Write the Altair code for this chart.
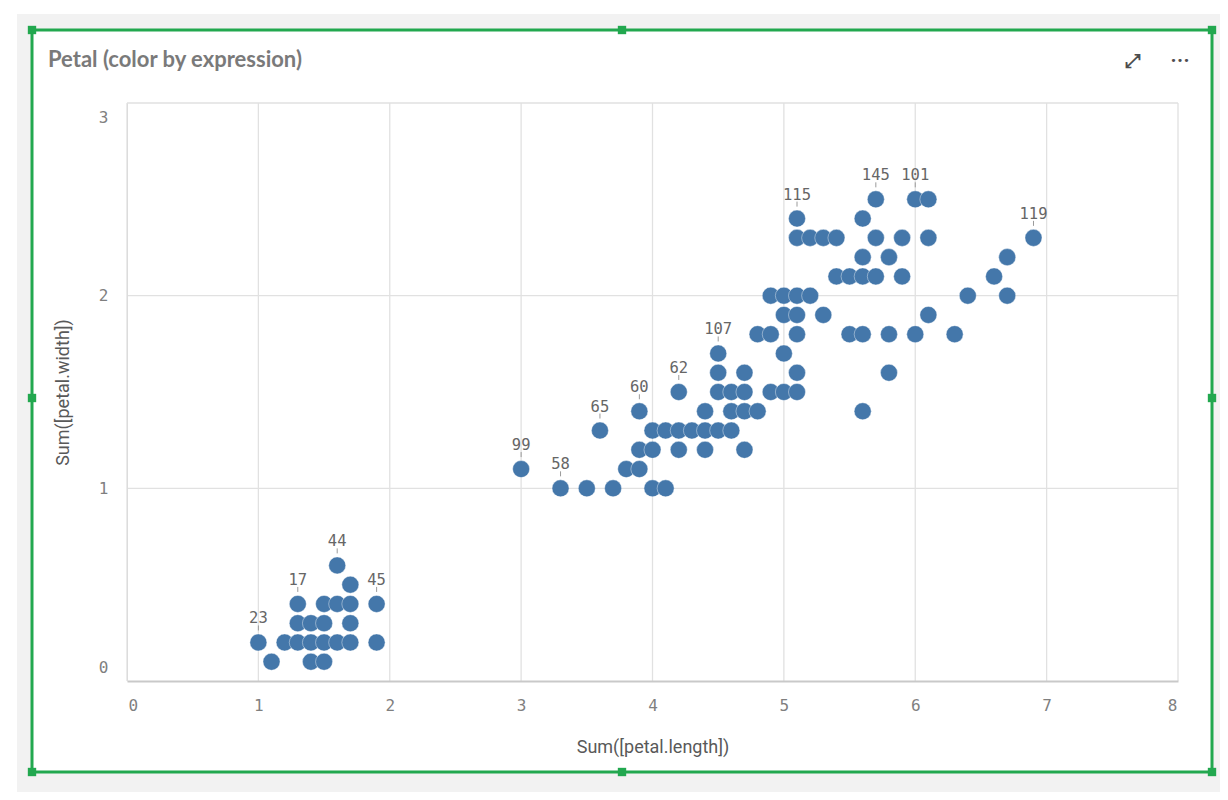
import altair as alt
import pandas as pd

# ---------------- data ----------------
petal_length = [
    1.1, 1.4, 1.5,
    1.0, 1.2, 1.3, 1.4, 1.5, 1.6, 1.7, 1.9,
    1.3, 1.4, 1.5, 1.7,
    1.3, 1.5, 1.6, 1.7, 1.9,
    1.7,
    1.6,
    3.3, 3.5, 3.7, 4.0, 4.1,
    3.0, 3.8, 3.9,
    3.9, 4.0, 4.2, 4.4, 4.7,
    3.6, 4.0, 4.1, 4.2, 4.3, 4.4, 4.5, 4.6,
    3.9, 4.4, 4.6, 4.7, 4.8, 5.6,
    4.2, 4.5, 4.6, 4.7, 4.9, 5.0, 5.1,
    4.5, 4.7, 5.1, 5.8,
    4.5, 5.0,
    4.8, 4.9, 5.1, 5.5, 5.6, 5.8, 6.0, 6.3,
    5.0, 5.1, 5.3, 6.1,
    4.9, 5.0, 5.1, 5.2, 6.4, 6.7,
    5.4, 5.5, 5.6, 5.7, 5.9, 6.6,
    5.6, 5.8, 6.7,
    5.1, 5.2, 5.3, 5.4, 5.7, 5.9, 6.1, 6.9,
    5.1, 5.6,
    5.7, 6.0, 6.1,
]
petal_width = (
    [0.1] * 3 + [0.2] * 8 + [0.3] * 4 + [0.4] * 5 + [0.5] * 1 + [0.6] * 1
    + [1.0] * 5 + [1.1] * 3 + [1.2] * 5 + [1.3] * 8 + [1.4] * 6 + [1.5] * 7
    + [1.6] * 4 + [1.7] * 2 + [1.8] * 8 + [1.9] * 4 + [2.0] * 6 + [2.1] * 6
    + [2.2] * 3 + [2.3] * 8 + [2.4] * 2 + [2.5] * 3
)

label_ids = ["23", "17", "44", "45", "99", "58", "65", "60", "62", "107",
             "115", "145", "101", "119"]
label_length = [1.0, 1.3, 1.6, 1.9, 3.0, 3.3, 3.6, 3.9, 4.2, 4.5, 5.1, 5.7, 6.0, 6.9]
label_width = [0.2, 0.4, 0.6, 0.4, 1.1, 1.0, 1.3, 1.4, 1.5, 1.7, 2.4, 2.5, 2.5, 2.3]

x_ticks = [0, 1, 2, 3, 4, 5, 6, 7, 8]
y_ticks = [0, 1, 2, 3]

title_text = "Petal (color by expression)"
x_title = "Sum([petal.length])"
y_title = "Sum([petal.width])"

# ---------------- layout ----------------
W, H = 1051, 578
PAD = {"left": 119, "top": 95, "right": 42, "bottom": 111}
GREEN = "#22a84f"
BLUE = "#4477aa"

points = pd.DataFrame({"length": petal_length, "width": petal_width})
labels = pd.DataFrame({"length": label_length, "width": label_width, "id": label_ids})
xgrid = pd.DataFrame({"length": x_ticks})
ygrid = pd.DataFrame({"width": y_ticks})

xs = alt.Scale(domain=[0, 8], nice=False, zero=True)
ys = alt.Scale(domain=[0, 3], nice=False, zero=True)

x_axis = alt.Axis(
    values=x_ticks, grid=False, ticks=False, zindex=1,
    domain=True, domainColor="#c9c9c9", domainWidth=2,
    labelFont="DejaVu Sans Mono", labelFontSize=16, labelColor="#7f7f7f",
    labelPadding=16, labelFlush=True, labelFlushOffset=-1,
    titleFont="Roboto", titleFontSize=18, titleFontWeight="normal", titleColor="#595959",
    titleX=W / 2, titleY=66, titleBaseline="middle", titleAlign="center",
)
y_axis = alt.Axis(
    values=y_ticks, grid=False, ticks=False, zindex=1,
    domain=True, domainColor="#dcdcdc", domainWidth=1,
    labelFont="DejaVu Sans Mono", labelFontSize=16, labelColor="#7f7f7f",
    labelPadding=19, labelFlush=True, labelFlushOffset=-6,
    titleFont="Roboto", titleFontSize=18, titleFontWeight="normal", titleColor="#595959",
    titleX=-64, titleY=H / 2, titleAngle=270, titleBaseline="middle", titleAlign="center",
)

def X(field="length"):
    return alt.X(f"{field}:Q", scale=xs, axis=x_axis, title=x_title)

def Y(field="width"):
    return alt.Y(f"{field}:Q", scale=ys, axis=y_axis, title=y_title)

one = pd.DataFrame({"k": [0]})

# ---------------- decoration (sheet + selection frame) ----------------
sheet = alt.Chart(one).mark_rect(fill="#f2f2f2", stroke=None).encode(
    x=alt.value(-110), x2=alt.value(W + 60), y=alt.value(-89), y2=alt.value(H + 111)
)
frame = alt.Chart(one).mark_rect(fill="white", stroke=GREEN, strokeWidth=3).encode(
    x=alt.value(-95), x2=alt.value(1085), y=alt.value(-73), y2=alt.value(669)
)
handles = pd.DataFrame({
    "hx": [-95, 495, 1085, -95, 1085, -95, 495, 1085],
    "hy": [-73, -73, -73, 295, 295, 669, 669, 669],
})
handle_marks = alt.Chart(handles).mark_square(size=70, opacity=1, color=GREEN).encode(
    x=alt.X("hx:Q", scale=None), y=alt.Y("hy:Q", scale=None)
)

title = alt.Chart(one).mark_text(
    text=title_text, font="Lato", fontSize=22, fontWeight="bold",
    color="#7a7a7a", align="left", baseline="middle",
).encode(x=alt.value(-79), y=alt.value(-43))

expand_icon = alt.Chart(one).mark_text(
    text="⤢", font="DejaVu Sans", fontSize=19, fontWeight="bold", color="#4d4d4d",
    align="center", baseline="middle",
).encode(x=alt.value(1005), y=alt.value(-42))
more_icon = alt.Chart(one).mark_text(
    text="•••", font="DejaVu Sans", fontSize=11, color="#4d4d4d",
    align="center", baseline="middle",
).encode(x=alt.value(1053), y=alt.value(-42))

# ---------------- grid ----------------
vgrid = alt.Chart(xgrid).mark_rule(color="#e1e1e1", strokeWidth=1.3).encode(
    x=X(), y=alt.value(0), y2=alt.value(H)
)
hgrid = alt.Chart(ygrid).transform_filter("datum.width > 0").mark_rule(
    color="#e1e1e1", strokeWidth=1.3
).encode(y=Y(), x=alt.value(0), x2=alt.value(W))

# ---------------- data marks ----------------
dots = alt.Chart(points).mark_circle(
    size=290, opacity=1, color=BLUE, stroke="#ffffff", strokeWidth=0.8, strokeOpacity=0.5
).encode(x=X(), y=Y())

label_ticks = alt.Chart(labels).mark_rule(
    color="#9a9a9a", strokeWidth=1, yOffset=-17, y2Offset=-12
).encode(x=X(), y=Y(), y2=alt.Y2("width:Q"))

label_text = alt.Chart(labels).mark_text(
    font="DejaVu Sans Mono", fontSize=15.5, color="#666666",
    align="center", baseline="alphabetic", dy=-19,
).encode(x=X(), y=Y(), text="id:N")

chart = alt.layer(
    sheet, frame, vgrid, hgrid, dots, label_ticks, label_text,
    title, expand_icon, more_icon, handle_marks,
).properties(
    width=W, height=H,
    autosize=alt.AutoSizeParams(type="none"),
    padding=PAD,
    background="white",
).configure_view(stroke=None)

chart.save("out.html", embed_options={"renderer": "svg", "actions": False})
